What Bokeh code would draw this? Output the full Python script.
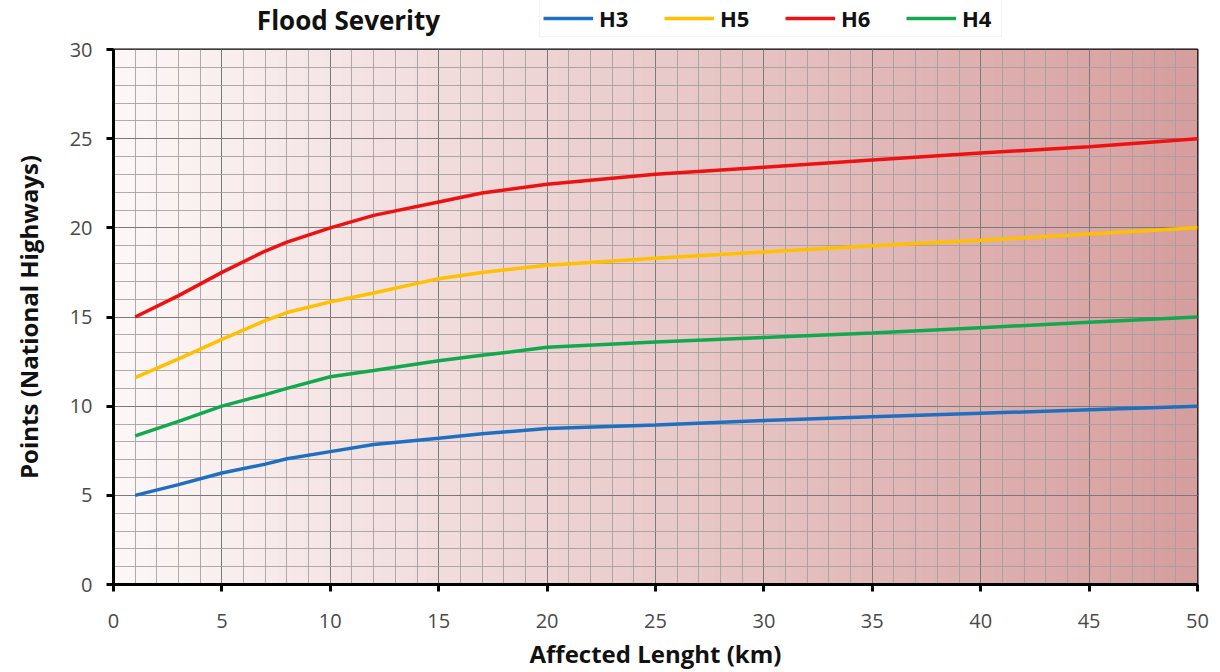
import numpy as np
from bokeh.plotting import figure
from bokeh.layouts import column
from bokeh.models import Legend, LegendItem, Label, FixedTicker, Range1d
from bokeh.embed import file_html
from bokeh.resources import INLINE

# Affected length (km) and points for each flood severity class
length_km = [1, 3, 5, 7, 8, 10, 12, 15, 17, 20, 25, 30, 35, 40, 45, 50]
h3 = [5.0, 5.6, 6.25, 6.75, 7.05, 7.45, 7.85, 8.2, 8.45, 8.75, 8.95, 9.2, 9.4, 9.6, 9.8, 10.0]
h5 = [11.6, 12.65, 13.75, 14.8, 15.25, 15.85, 16.35, 17.15, 17.5, 17.9, 18.3, 18.65, 19.0, 19.3, 19.65, 20.0]
h6 = [15.0, 16.2, 17.5, 18.7, 19.2, 20.0, 20.7, 21.45, 21.95, 22.45, 23.0, 23.4, 23.8, 24.2, 24.55, 25.0]
h4 = [8.33, 9.15, 10.0, 10.65, 11.0, 11.65, 12.0, 12.55, 12.85, 13.3, 13.6, 13.85, 14.1, 14.4, 14.7, 15.0]

series_names = ["H3", "H5", "H6", "H4"]
series_values = [h3, h5, h6, h4]
series_colors = ["#1f6fc0", "#ffc000", "#ee1111", "#12a84e"]

x_ticks = [0, 5, 10, 15, 20, 25, 30, 35, 40, 45, 50]
y_ticks = [0, 5, 10, 15, 20, 25, 30]

FONT = "Open Sans"
W = 1220
HEAD_H = 37
PAD_L, PAD_R = 113, 23
LINE_W = 3.5

# ---- header strip: chart title and series legend ----
# its x range is expressed in page pixels so the title can be placed directly
head = figure(
    width=W, height=HEAD_H,
    x_range=Range1d(PAD_L, W - PAD_R), y_range=Range1d(0, HEAD_H),
    output_backend="svg", toolbar_location=None,
    x_axis_location=None, y_axis_location=None,
    min_border_left=PAD_L, min_border_right=PAD_R,
    min_border_top=0, min_border_bottom=0,
    outline_line_color=None,
    background_fill_color="white", border_fill_color="white",
)
head.grid.visible = False

head.add_layout(Label(
    x=348, y=HEAD_H - 19, text="Flood Severity",
    text_font=FONT, text_font_style="bold", text_font_size="26px",
    text_color="#111111", text_align="center", text_baseline="middle",
))

# key swatches (kept off-screen; only their styling feeds the legend)
key_renderers = [
    head.line(x=[-100, -90], y=[-100, -100], line_color=c, line_width=LINE_W)
    for c in series_colors
]
legend = Legend(
    items=[LegendItem(label=n, renderers=[r]) for n, r in zip(series_names, key_renderers)],
    orientation="horizontal",
    location=(539 - PAD_L, 0),
    label_text_font=FONT,
    label_text_font_style="bold",
    label_text_font_size="22px",
    label_text_color="#111111",
    glyph_width=50,
    glyph_height=20,
    label_standoff=6,
    label_width=36,
    spacing=29,
    padding=3,
    margin=0,
    border_line_color="#e8e8e8",
    background_fill_color="white",
    background_fill_alpha=1.0,
)
head.add_layout(legend)

# ---- main chart ----
p = figure(
    width=W, height=672 - HEAD_H,
    x_range=Range1d(0, 50), y_range=Range1d(0, 30),
    output_backend="svg", toolbar_location=None,
    min_border_left=PAD_L, min_border_right=PAD_R,
    min_border_top=49 - HEAD_H, min_border_bottom=88,
    background_fill_color="white", border_fill_color="white",
)

# horizontal white-to-rose gradient behind the grid
n_cols = 256
t = np.linspace(0.0, 1.0, n_cols)
c_left = np.array([253, 247, 247], dtype=float)
c_right = np.array([214, 158, 158], dtype=float)
rgb = c_left + (c_right - c_left) * t[:, None]
img = np.empty((1, n_cols), dtype=np.uint32)
view = img.view(dtype=np.uint8).reshape((1, n_cols, 4))
view[0, :, 0:3] = np.round(rgb).astype(np.uint8)
view[0, :, 3] = 255
p.image_rgba(image=[img], x=0, y=0, dw=50, dh=30, level="image")

# axes and grid
p.xaxis.ticker = FixedTicker(ticks=x_ticks, minor_ticks=list(range(0, 51)))
p.yaxis.ticker = FixedTicker(ticks=y_ticks, minor_ticks=list(range(0, 31)))

p.xgrid.grid_line_color = "#7a7a7a"
p.ygrid.grid_line_color = "#7a7a7a"
p.xgrid.grid_line_width = 1
p.ygrid.grid_line_width = 1
p.xgrid.minor_grid_line_color = "#a29e9e"
p.ygrid.minor_grid_line_color = "#a29e9e"
p.xgrid.minor_grid_line_alpha = 0.85
p.ygrid.minor_grid_line_alpha = 0.85

for ax in (p.xaxis[0], p.yaxis[0]):
    ax.axis_line_color = "black"
    ax.axis_line_width = 3
    ax.major_tick_line_color = "black"
    ax.major_tick_line_width = 3
    ax.major_tick_out = 7
    ax.major_tick_in = 0
    ax.minor_tick_line_color = None
    ax.major_label_text_font = FONT
    ax.major_label_text_font_size = "20px"
    ax.major_label_text_color = "#4a4a4a"
    ax.axis_label_text_font = FONT
    ax.axis_label_text_font_style = "bold"
    ax.axis_label_text_font_size = "24px"
    ax.axis_label_text_color = "#111111"

p.xaxis.axis_label = "Affected Lenght (km)"
p.yaxis.axis_label = "Points (National Highways)"
p.xaxis.major_label_standoff = 22
p.xaxis.axis_label_standoff = 6
p.yaxis.major_label_standoff = 14
p.yaxis.axis_label_standoff = 22

p.outline_line_color = "black"
p.outline_line_width = 2

# curves
for vals, col in zip(series_values, series_colors):
    p.line(length_km, vals, line_color=col, line_width=LINE_W)

open("out.html", "w").write(file_html(column(head, p, spacing=0), INLINE))
